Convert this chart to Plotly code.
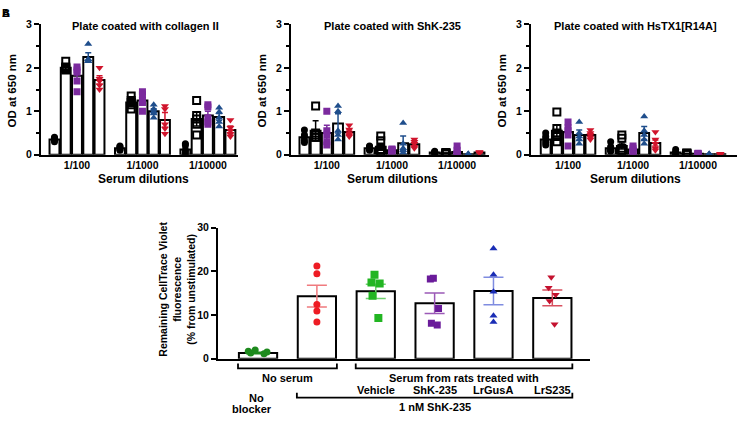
import plotly.graph_objects as go

# ---------------- data: top panels (OD at 650 nm) ----------------
DILUTIONS = ["1/100", "1/1000", "1/10000"]
SERIES = ["Group 1", "Group 2", "ShK-235", "LrGusA", "LrS235"]
PANEL_TITLES = ["Plate coated with collagen II", "Plate coated with ShK-235",
                "Plate coated with HsTX1[R14A]"]

# [series][dilution]
COL_MEAN = [[0.35, 0.15, 0.12], [2.00, 1.20, 0.82], [1.82, 1.25, 0.90],
            [2.25, 1.00, 0.87], [1.72, 0.80, 0.57]]
COL_SEM = [[0.02, 0.02, 0.05], [0.04, 0.05, 0.16], [0.10, 0.08, 0.10],
           [0.10, 0.06, 0.08], [0.10, 0.17, 0.09]]
COL_PTS = [
    [[0.30, 0.33, 0.36, 0.40, 0.38], [0.12, 0.15, 0.18, 0.20, 0.10], [0.25, 0.22, 0.10, 0.05, 0.00]],
    [[2.15, 2.00, 1.98, 2.02, 1.95], [1.35, 1.25, 1.20, 1.15, 1.05], [1.25, 0.90, 0.82, 0.70, 0.45]],
    [[2.02, 1.95, 1.90, 1.70, 1.45], [1.45, 1.38, 1.25, 1.20, 1.00], [1.15, 1.10, 0.85, 0.75, 0.70]],
    [[2.55, 2.20, 2.15, 2.20, 2.15], [1.15, 1.05, 1.00, 0.95, 0.85], [1.08, 0.98, 0.85, 0.75, 0.65]],
    [[2.00, 1.75, 1.70, 1.60, 1.50], [1.12, 1.05, 0.70, 0.60, 0.48], [0.80, 0.62, 0.55, 0.48, 0.42]],
]

SHK_MEAN = [[0.40, 0.15, 0.05], [0.55, 0.18, 0.03], [0.50, 0.10, 0.06],
            [0.72, 0.26, 0.01], [0.52, 0.24, 0.05]]
SHK_SEM = [[0.05, 0.02, 0.01], [0.23, 0.08, 0.01], [0.18, 0.01, 0.04],
           [0.22, 0.17, 0.005], [0.05, 0.04, 0.005]]
SHK_PTS = [
    [[0.57, 0.45, 0.40, 0.32, 0.28], [0.20, 0.18, 0.15, 0.12, 0.10], [0.08, 0.06, 0.05, 0.04, 0.03]],
    [[1.12, 0.50, 0.45, 0.40, 0.40], [0.43, 0.32, 0.12, 0.08, 0.05], [0.05, 0.04, 0.03, 0.02, 0.02]],
    [[1.00, 0.55, 0.45, 0.30, 0.22], [0.13, 0.12, 0.10, 0.09, 0.08], [0.20, 0.10, 0.03, 0.02, 0.01]],
    [[1.12, 1.00, 0.55, 0.45, 0.35], [0.73, 0.25, 0.15, 0.10, 0.05], [0.02, 0.01, 0.01, 0.00, 0.00]],
    [[0.68, 0.58, 0.50, 0.45, 0.42], [0.35, 0.30, 0.25, 0.18, 0.15], [0.06, 0.05, 0.05, 0.04, 0.04]],
]

HS_MEAN = [[0.35, 0.15, 0.05], [0.55, 0.20, 0.02], [0.52, 0.12, 0.02],
           [0.45, 0.50, 0.01], [0.45, 0.27, 0.01]]
HS_SEM = [[0.05, 0.04, 0.02], [0.13, 0.07, 0.005], [0.10, 0.03, 0.005],
          [0.12, 0.15, 0.005], [0.04, 0.07, 0.005]]
HS_PTS = [
    [[0.50, 0.42, 0.35, 0.28, 0.22], [0.30, 0.18, 0.12, 0.10, 0.08], [0.12, 0.06, 0.04, 0.02, 0.01]],
    [[0.98, 0.60, 0.50, 0.42, 0.30], [0.45, 0.38, 0.15, 0.10, 0.08], [0.04, 0.03, 0.02, 0.01, 0.01]],
    [[0.75, 0.62, 0.55, 0.45, 0.20], [0.20, 0.15, 0.10, 0.08, 0.05], [0.03, 0.02, 0.02, 0.01, 0.01]],
    [[0.75, 0.50, 0.42, 0.35, 0.25], [0.88, 0.55, 0.45, 0.35, 0.25], [0.02, 0.01, 0.01, 0.00, 0.00]],
    [[0.57, 0.50, 0.45, 0.40, 0.35], [0.52, 0.35, 0.25, 0.15, 0.10], [0.02, 0.01, 0.01, 0.01, 0.00]],
]

# ---------------- data: bottom panel ----------------
B_CATS = ["No blocker", "No serum", "Vehicle", "ShK-235", "LrGusA", "LrS235"]
B_MEAN = [1.3, 14.3, 15.4, 12.7, 15.5, 13.9]
B_SEM = [0.15, 2.5, 1.65, 2.35, 3.15, 1.8]
B_PTS = [
    [1.3, 2.0, 1.5, 1.7, 1.1],
    [21.2, 19.4, 12.4, 10.9, 8.4],
    [19.2, 17.2, 17.4, 14.4, 9.3],
    [18.4, 18.2, 11.5, 7.7, 8.1],
    [25.2, 19.2, 15.3, 9.8, 8.4],
    [18.6, 16.2, 14.6, 13.2, 7.9],
]

# ---------------- styles ----------------
FONT = "Liberation Sans, Arial, sans-serif"
TOP_SYMBOLS = ["circle", "square-open", "square", "triangle-up", "triangle-down"]
TOP_COLORS = ["#000000", "#000000", "#7b2a9e", "#1f4e8c", "#d0142c"]
TOP_SIZES = [7, 7, 7, 7, 7]

B_SYMBOLS = ["circle", "circle", "square", "square", "triangle-up", "triangle-down"]
B_COLORS = ["#1d8a1d", "#ee1c24", "#22b522", "#6a1b9a", "#1a2db5", "#c4122f"]
B_ERRCOL = ["#1d8a1d", "#f07a7e", "#6fd06f", "#9b59b6", "#7f8ce0", "#d8505f"]
B_JITTER = [0.8, 0, 0.35, 0.35, 0, 0.3]
B_SIZES = [7, 7, 8, 7, 7, 7]

fig = go.Figure()

panels = [(COL_MEAN, COL_SEM, COL_PTS), (SHK_MEAN, SHK_SEM, SHK_PTS), (HS_MEAN, HS_SEM, HS_PTS)]
for p, (means, sems, pts) in enumerate(panels):
    xa = "x" if p == 0 else f"x{p + 1}"
    ya = "y" if p == 0 else f"y{p + 1}"
    for s in range(5):
        fig.add_trace(go.Bar(
            x=DILUTIONS, y=means[s], xaxis=xa, yaxis=ya, offsetgroup=str(s),
            marker=dict(color="white", line=dict(color="black", width=2)),
            error_y=dict(type="data", array=sems[s], color=TOP_COLORS[s], thickness=1.5, width=3),
            showlegend=False, hoverinfo="skip"))
    for s in range(5):
        xs, ys = [], []
        for d, lab in enumerate(DILUTIONS):
            xs += [lab] * len(pts[s][d])
            ys += pts[s][d]
        fig.add_trace(go.Scatter(
            x=xs, y=ys, xaxis=xa, yaxis=ya, mode="markers", offsetgroup=str(s),
            marker=dict(symbol=TOP_SYMBOLS[s], color=TOP_COLORS[s], size=TOP_SIZES[s],
                        line=dict(color=TOP_COLORS[s], width=2 if s == 1 else 0)),
            showlegend=False, hoverinfo="skip"))

for i, cat in enumerate(B_CATS):
    fig.add_trace(go.Bar(
        x=[cat], y=[B_MEAN[i]], xaxis="x4", yaxis="y4", offsetgroup="b", width=0.65,
        marker=dict(color="white", line=dict(color="black", width=2)),
        error_y=dict(type="data", array=[B_SEM[i]], color=B_ERRCOL[i], thickness=1.5, width=10),
        showlegend=False, hoverinfo="skip"))
for i, cat in enumerate(B_CATS):
    fig.add_trace(go.Box(
        x=[cat] * len(B_PTS[i]), y=B_PTS[i], xaxis="x4", yaxis="y4",
        boxpoints="all", jitter=B_JITTER[i], pointpos=0,
        marker=dict(symbol=B_SYMBOLS[i], color=B_COLORS[i], size=B_SIZES[i]),
        line=dict(color="rgba(0,0,0,0)", width=0), fillcolor="rgba(0,0,0,0)",
        showlegend=False, hoverinfo="skip"))

W, H = 738, 422
def px(v):
    return v / W
def py(v):
    return (H - v) / H

axis_common = dict(showline=True, linewidth=2, linecolor="black", showgrid=False, zeroline=False,
                   tickfont=dict(family=FONT, size=10.5, color="black", weight="bold"))
top_x = [(41, 238, [-0.55, 2.46]), (291, 489, [-0.55, 2.49]), (531, 737, [-0.57, 2.6])]
layout_axes = {}
for p, (a, b, rng) in enumerate(top_x):
    k = "" if p == 0 else str(p + 1)
    layout_axes["xaxis" + k] = dict(axis_common, domain=[px(a), px(b)], anchor="y" + k, type="category",
                                    range=rng, ticks="", fixedrange=True)
    layout_axes["yaxis" + k] = dict(axis_common, domain=[py(153), py(19)], anchor="x" + k, range=[0, 3],
                                    dtick=1, ticks="outside", ticklen=5, tickwidth=2, tickcolor="black",
                                    minor=dict(dtick=0.5, ticks="outside", ticklen=3, tickwidth=2,
                                               tickcolor="black"))
layout_axes["xaxis4"] = dict(axis_common, domain=[px(218), px(590)], anchor="y4", type="category",
                             range=[-0.68, 5.64], ticks="", showticklabels=False)
layout_axes["yaxis4"] = dict(axis_common, domain=[py(363), py(228)], anchor="x4", range=[0, 30],
                             dtick=10, ticks="outside", ticklen=5, tickwidth=2, tickcolor="black")

fig.update_layout(
    width=W, height=H, margin=dict(l=0, r=0, t=0, b=0),
    paper_bgcolor="white", plot_bgcolor="white",
    barmode="group", bargap=0.14, bargroupgap=0.12, scattermode="group", scattergap=0.14,
    boxmode="overlay", showlegend=False,
    font=dict(family=FONT, color="black"),
    **layout_axes)

ann = []
def txt(t, x, y, xref="paper", size=10.5, angle=0):
    ann.append(dict(text=f"<b>{t}</b>", x=x, y=y, xref=xref, yref="paper", showarrow=False,
                    xanchor="center", yanchor="middle", textangle=angle,
                    font=dict(family=FONT, size=size, color="black")))

for p, (tx, oy, sd) in enumerate([(145, 12, 143), (392, 262, 392), (635, 502, 635)]):
    txt(PANEL_TITLES[p], px(tx), py(21), size=11)
    txt("OD at 650 nm", px(oy), py(87), size=11.5, angle=-90)
    txt("Serum dilutions", px(sd), py(178), size=12)
txt("A", px(6), py(7), size=11)
txt("B", px(6), py(7), size=11)
txt("Remaining CellTrace Violet<br>fluorescence<br>(% from unstimulated)", px(177), py(292),
    size=10.5, angle=-90)
txt("No serum", 0.5, py(383), xref="x4", size=11)
txt("Serum from rats treated with", 3.5, py(383), xref="x4", size=11)
for c in B_CATS[2:]:
    txt(c, c, py(395), xref="x4", size=11)
txt("No", -0.02, py(403), xref="x4", size=11)
txt("blocker", -0.1, py(415), xref="x4", size=11)
txt("1 nM ShK-235", 3, py(413), xref="x4", size=11)
fig.update_layout(annotations=ann)

def bracket(x0, x1, ytop, ybot):
    return dict(type="path", xref="x4", yref="paper",
                path=f"M {x0} {py(ytop)} L {x0} {py(ybot)} L {x1} {py(ybot)} L {x1} {py(ytop)}",
                line=dict(color="black", width=1.8))
fig.update_layout(shapes=[bracket(-0.34, 1.34, 368, 373), bracket(1.66, 5.34, 368, 373),
                          bracket(0.66, 5.34, 398, 403)])

fig.write_html("out.html", config={"displayModeBar": False},
               post_script="document.body.style.margin='0';document.body.style.overflow='hidden';")
